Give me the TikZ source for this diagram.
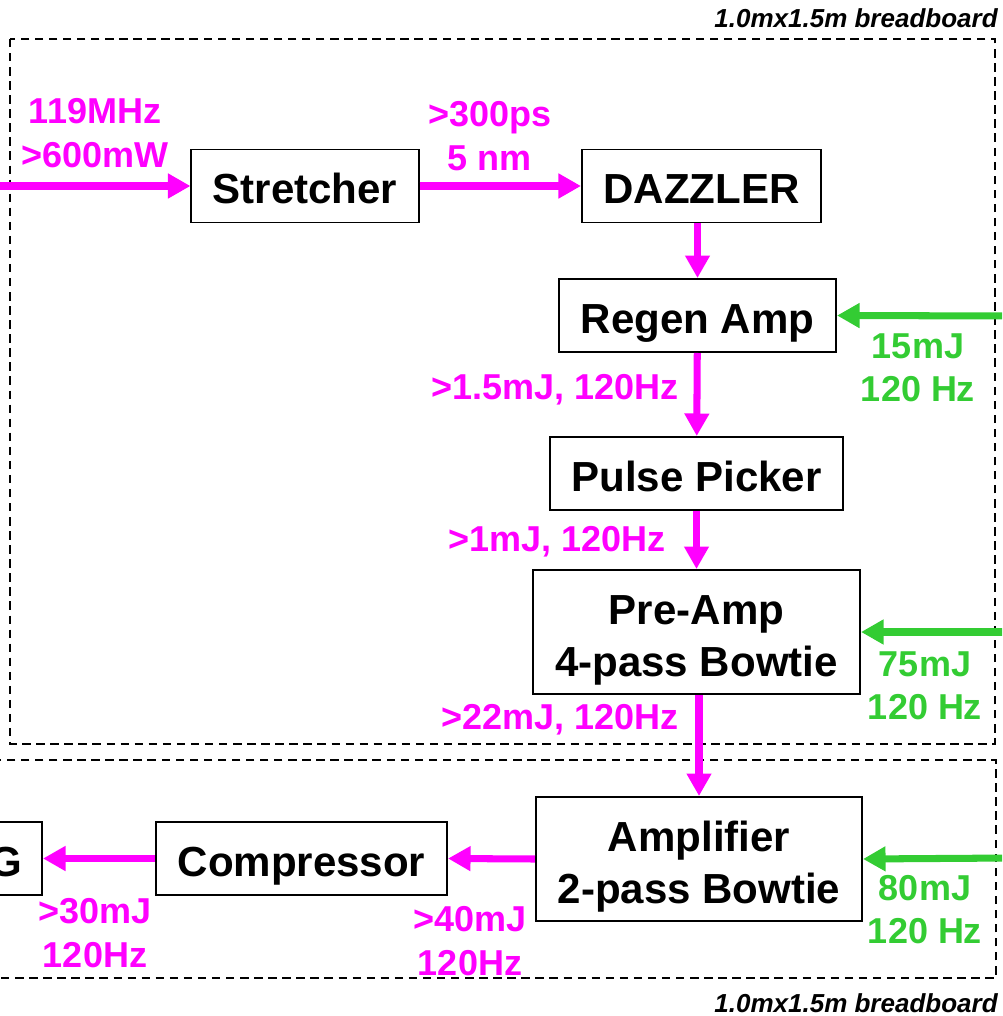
\documentclass[tikz,border=0pt]{standalone}
\usepackage{fontspec}
\setmainfont{Liberation Sans}
\usetikzlibrary{arrows.meta}
\definecolor{beam}{RGB}{255,0,255}
\definecolor{pump}{RGB}{51,204,51}
\tikzset{
    block/.style={draw, line width=1.4pt, fill=white, align=center, inner sep=0pt, minimum height=1.825cm,
        font=\fontsize{29.9}{37}\selectfont\bfseries},
    oneline/.style={text height=1.05cm, text depth=0.175cm},
    beamlabel/.style={text=beam, align=center, inner sep=0pt, font=\fontsize{25.6}{31}\selectfont\bfseries},
    pumplabel/.style={text=pump, align=center, inner sep=0pt, font=\fontsize{25.6}{30.6}\selectfont\bfseries},
    beamarrow/.style={draw=beam, line width=5pt, -{Triangle[length=16pt,width=16.8pt]}},
    pumparrow/.style={draw=pump, line width=5pt, -{Triangle[length=16pt,width=16.8pt]}},
    board/.style={draw, dashed, line width=1pt, dash pattern=on 6pt off 4pt},
    boardlabel/.style={anchor=east, inner sep=0pt, font=\fontsize{18.5}{22}\selectfont\bfseries\itshape}
}
\begin{document}
\begin{tikzpicture}[x=0.025cm, y=-0.025cm]
        \useasboundingbox (0,0) rectangle (1002,1016);
        \clip (0,0) rectangle (1002,1016);

        % Draw breadboards
        \draw[board] (10,39) rectangle (995,744);
        \draw[board] (-20,760) rectangle (996,978);
        \node[boardlabel] (topboard) at (998,18) {1.0mx1.5m breadboard};
        \node[boardlabel] (botboard) at (998,1003) {1.0mx1.5m breadboard};

        % Draw blocks
        \node[block, oneline, minimum width=5.675cm] (str) at (305,186) {Stretcher};
        \node[block, oneline, minimum width=5.975cm] (dazz) at (701.5,186) {DAZZLER};
        \node[block, oneline, minimum width=6.925cm] (regen) at (697.5,315.5) {Regen Amp};
        \node[block, oneline, minimum width=7.325cm] (picker) at (696.5,473.5) {Pulse Picker};
        \node[block, minimum width=8.175cm, minimum height=3.1cm] (pre) at (696.5,632) {\rule{0pt}{1.12cm}Pre-Amp\\4-pass Bowtie};
        \node[block, minimum width=8.15cm, minimum height=3.1cm] (amp) at (699,859) {\rule{0pt}{1.12cm}Amplifier\\2-pass Bowtie};
        \node[block, oneline, minimum width=7.275cm] (comp) at (301.5,858.5) {Compressor};
        \node[block, oneline, minimum width=3.6cm, text width=2.6cm, align=right] (shg) at (-30,858.5) {G};

        % Draw beam path
        \coordinate (src) at (-10,186);
        \draw[beamarrow] (src) -- (str.west);
        \draw[beamarrow] (str) -- (dazz);
        \draw[beamarrow] (regen.north |- dazz.south) -- (regen.north);
        \draw[beamarrow] (regen) -- (picker);
        \draw[beamarrow] (picker) -- (pre);
        \draw[beamarrow] (amp.north |- pre.south) -- (amp.north);
        \draw[beamarrow] (amp.west) -- (comp.east);
        \draw[beamarrow] (comp.west) -- (shg.east);

        % Draw pump beams
        \coordinate (pump1) at (1010,316);
        \coordinate (pump2) at (1010,632);
        \coordinate (pump3) at (1010,858);
        \draw[pumparrow] (pump1) -- (regen.east);
        \draw[pumparrow] (pump2) -- (pre.east);
        \draw[pumparrow] (pump3) -- (amp.east);

        % Draw beam labels
        \node[beamlabel] (oscl) at (95,133) {119MHz\\>600mW};
        \node[beamlabel] (strl) at (490,136) {>300ps\\5 nm};
        \node[beamlabel] (regenl) at (555,390) {>1.5mJ, 120Hz};
        \node[beamlabel] (pickerl) at (557,542) {>1mJ, 120Hz};
        \node[beamlabel] (prel) at (560,720) {>22mJ, 120Hz};
        \node[beamlabel] (ampl) at (470,941) {>40mJ\\120Hz};
        \node[beamlabel] (compl) at (95,933) {>30mJ\\120Hz};

        % Draw pump labels
        \node[pumplabel] (pump1l) at (918,368) {15mJ\\120 Hz};
        \node[pumplabel] (pump2l) at (925,686) {75mJ\\120 Hz};
        \node[pumplabel] (pump3l) at (925,910) {80mJ\\120 Hz};
    \end{tikzpicture}
\end{document}
